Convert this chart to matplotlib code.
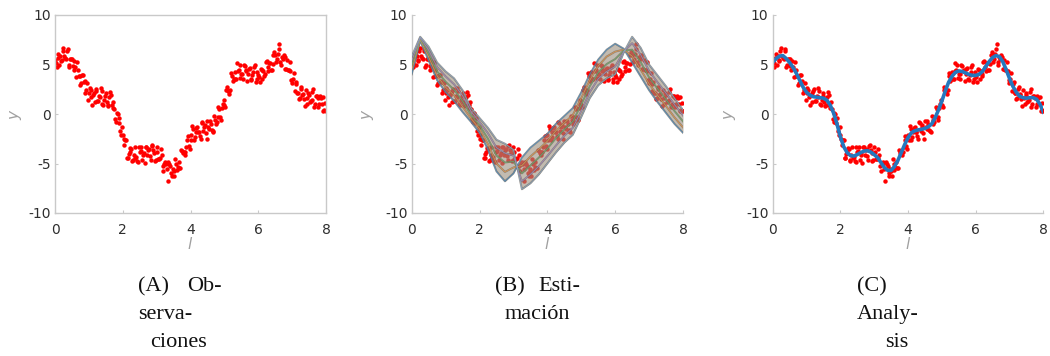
import numpy as np
import matplotlib.pyplot as plt
from matplotlib import font_manager

# --- data ---
# observations, two interleaved sampling grids
obs_t1 = np.arange(0, 8.001, 0.05)
obs_y1 = [5.5, 4.7, 6.1, 5.85, 5.45, 6.7, 5.7, 6.35, 4.7, 5.6,
          5.6, 4.45, 4.7, 5.3, 3.8, 2.95, 3.9, 3.25, 2.1, 3.15,
          2.1, 2.45, 0.9, 2.1, 2.35, 1.3, 1.8, 2.6, 1.05, 1.4,
          2.1, 0.8, 1.7, 1.95, 0.6, 0.5, -0.8, -0.05, -0.4, -2.15,
          -2.1, -3.1, -2.6, -4.4, -3.8, -3.55, -4.6, -3.3, -4.35, -4.8,
          -3.8, -3.3, -4.1, -4.9, -3.35, -3.6, -4.2, -3.2, -3.65, -4.7,
          -3.3, -4.55, -4.4, -4.15, -5.8, -4.85, -5.6, -4.85, -5.3, -6.3,
          -5.8, -4.5, -5.7, -4.8, -5.5, -3.7, -3.8, -3.8, -2.6, -3.25,
          -2.1, -1.25, -2.6, -1.8, -1.3, -1.85, -2.5, -0.95, -1.35, -1.9,
          -0.75, -1.5, -1.0, -1.75, -0.2, -1.0, -0.3, 0.5, -0.6, 1.05,
          0.9, 2.4, 2.3, 2.05, 4.1, 3.3, 4.2, 3.5, 4.3, 5.0,
          4.05, 3.5, 4.8, 4.4, 4.05, 4.65, 3.4, 4.25, 4.9, 3.5,
          3.9, 3.25, 4.4, 4.35, 4.0, 5.35, 4.3, 5.15, 4.4, 6.0,
          6.0, 5.6, 6.6, 5.25, 5.8, 5.95, 4.5, 5.5, 4.4, 4.35,
          3.1, 4.1, 3.0, 2.1, 1.5, 2.5, 1.9, 1.5, 2.45, 1.0,
          1.9, 1.3, 2.25, 0.75, 1.85, 1.6, 1.0, 1.65, 1.7, 0.4,
          0.3]
obs_t2 = np.arange(0.025, 8.0, 0.05)
obs_y2 = [5.2, 5.7, 5.0, 5.4, 6.4, 5.9, 5.6, 6.6, 4.9, 5.6,
          4.8, 5.4, 3.75, 4.45, 3.8, 3.1, 3.9, 3.3, 2.4, 1.4,
          2.6, 1.7, 1.95, 1.2, 2.5, 1.3, 1.7, 2.3, 0.9, 1.8,
          1.25, 0.95, 2.2, 0.9, 1.2, -0.5, 0.1, -0.95, -1.7, -1.3,
          -2.55, -2.65, -4.45, -4.05, -3.4, -4.7, -4.1, -4.4, -4.7, -3.35,
          -3.75, -4.65, -3.95, -3.3, -4.1, -3.5, -4.65, -3.1, -3.9, -4.65,
          -3.8, -4.5, -3.5, -5.3, -5.1, -5.0, -6.8, -5.0, -6.0, -5.6,
          -6.3, -5.0, -5.35, -5.45, -3.6, -3.9, -4.1, -3.3, -2.2, -3.5,
          -2.6, -1.5, -2.35, -1.45, -1.8, -2.2, -0.8, -1.75, -1.1, -2.5,
          -1.3, -0.75, -1.6, -1.8, -0.65, -0.85, 0.7, -0.3, 0.6, 1.4,
          0.75, 2.75, 2.3, 2.4, 3.85, 3.55, 3.5, 5.2, 4.45, 3.6,
          4.0, 4.9, 4.35, 3.3, 4.5, 3.5, 3.9, 4.7, 3.2, 4.2,
          3.7, 4.5, 3.5, 3.8, 5.3, 4.7, 5.2, 4.4, 5.1, 6.3,
          5.25, 6.05, 7.1, 4.9, 5.6, 5.8, 4.5, 4.4, 5.3, 3.4,
          3.5, 2.3, 3.25, 2.15, 1.6, 2.7, 2.05, 0.8, 1.6, 2.1,
          1.2, 1.4, 2.55, 1.05, 1.8, 0.75, 1.8, 1.0, 0.3, 1.1]

# analysis (panel C)
ana_t = np.arange(0, 8.001, 0.1)
ana_y = [5.2, 5.6, 5.85, 5.9, 5.6, 5.2, 4.7, 4.1, 3.4, 2.7,
         2.2, 1.9, 1.75, 1.7, 1.65, 1.6, 1.4, 0.9, 0.1, -1.0,
         -2.3, -3.3, -3.9, -4.2, -4.25, -4.1, -3.9, -3.75, -3.7, -3.85,
         -4.1, -4.4, -4.9, -5.4, -5.7, -5.7, -5.3, -4.7, -3.9, -3.1,
         -2.4, -1.9, -1.7, -1.6, -1.55, -1.45, -1.3, -1.0, -0.4, 0.4,
         1.3, 2.3, 3.2, 3.8, 4.2, 4.35, 4.3, 4.15, 4.0, 3.9,
         3.9, 4.0, 4.3, 4.8, 5.3, 5.7, 5.9, 5.8, 5.3, 4.5,
         3.6, 2.8, 2.2, 1.8, 1.65, 1.6, 1.65, 1.65, 1.5, 1.0,
         0.2]

# ensemble members (panel B)
ens_t = np.arange(0, 8.001, 0.25)
ens_a = [4.0, 7.4, 5.4, 3.4, 2.2, 1.3, 0.2, -0.8, -1.9, -3.6, -5.8, -6.8, -6.0,
         -4.4, -3.4, -2.7, -2.0, -1.0, -0.2, 0.6, 2.2, 4.0, 5.5, 6.5, 7.1, 6.6,
         5.2, 3.8, 2.4, 1.2, 0.1, -1.0, -1.9]
ens_q1 = [4.45, 7.5, 5.75, 3.85, 2.7, 1.9, 0.75, -0.45, -1.5, -3.05, -5.0, -5.85, -5.4,
          -5.2, -4.3, -3.55, -2.75, -1.7, -0.9, -0.1, 1.6, 3.4, 4.85, 5.8, 6.3, 6.5,
          5.85, 4.5, 3.05, 1.9, 0.8, -0.35, -1.35]
ens_mid = [4.9, 7.6, 6.1, 4.3, 3.25, 2.45, 1.3, -0.1, -1.15, -2.5, -4.2, -4.9, -4.8,
           -6.0, -5.2, -4.4, -3.5, -2.45, -1.55, -0.75, 0.95, 2.8, 4.2, 5.05, 5.55, 6.4,
           6.5, 5.25, 3.7, 2.55, 1.45, 0.3, -0.75]
ens_q3 = [5.35, 7.7, 6.45, 4.75, 3.8, 3.0, 1.85, 0.25, -0.8, -1.95, -3.4, -3.95, -4.2,
          -6.8, -6.1, -5.25, -4.25, -3.2, -2.2, -1.4, 0.3, 2.2, 3.55, 4.3, 4.8, 6.3,
          7.15, 6.0, 4.35, 3.2, 2.1, 0.95, -0.15]
ens_b = [5.8, 7.8, 6.8, 5.2, 4.3, 3.6, 2.4, 0.6, -0.4, -1.4, -2.6, -3.0, -3.6,
         -7.6, -7.0, -6.1, -5.0, -3.9, -2.9, -2.1, -0.3, 1.6, 2.9, 3.6, 4.0, 6.2,
         7.8, 6.7, 5.0, 3.9, 2.8, 1.6, 0.4]
members = [ens_a, ens_q1, ens_mid, ens_q3, ens_b]

yticks = [-10, -5, 0, 5, 10]
xticks = [0, 2, 4, 6, 8]

installed = {f.name for f in font_manager.fontManager.ttflist}
tick_font = 'Liberation Sans Narrow' if 'Liberation Sans Narrow' in installed else 'DejaVu Sans'
tick_size = 12 if tick_font == 'Liberation Sans Narrow' else 10

fig = plt.figure(figsize=(10.5, 3.56), dpi=100)
W, H = 1050, 356
bottom = 1 - 213 / H
height = (213 - 15) / H
lefts = [55, 411.7, 772.7]
widths = [271, 271.3, 270.6]
ylab_x = [-0.115, -0.132, -0.128]
axes = [fig.add_axes([l / W, bottom, w / W, height]) for l, w in zip(lefts, widths)]

dot = dict(color='red', ms=3.2, mew=0, ls='none', marker='o')


def style(ax, box, ylx):
    ax.set_xlim(0, 8)
    ax.set_ylim(-10, 10)
    ax.set_xticks(xticks)
    ax.set_yticks(yticks)
    ax.set_yticklabels([str(v) for v in yticks])
    for name, sp in ax.spines.items():
        sp.set_color('#c9c9c9')
        sp.set_linewidth(1.0)
        if not box and name in ('top', 'right'):
            sp.set_visible(False)
    ax.tick_params(direction='in', length=2, width=0.8, color='#c9c9c9',
                   labelcolor='#2e2e2e', labelsize=tick_size)
    ax.tick_params(axis='x', pad=7)
    ax.tick_params(axis='y', pad=3)
    for lab in ax.get_xticklabels() + ax.get_yticklabels():
        lab.set_family(tick_font)
    ax.set_xlabel('$l$', fontsize=11, color='#a0a0a0')
    ax.set_ylabel('$y$', fontsize=11, color='#a0a0a0')
    ax.xaxis.set_label_coords(0.5, -0.115)
    ax.yaxis.set_label_coords(ylx, 0.5)


# (A) observations
ax = axes[0]
ax.plot(obs_t1, obs_y1, **dot)
ax.plot(obs_t2, obs_y2, **dot)
style(ax, True, ylab_x[0])

# (B) ensemble estimate
ax = axes[1]
ax.plot(obs_t1, obs_y1, zorder=2, **dot)
ax.plot(obs_t2, obs_y2, zorder=2, **dot)
ax.fill_between(ens_t, ens_a, ens_b, color='#9a8f7e', alpha=0.6, lw=0, zorder=3)
member_colors = ['#4a8cc4', '#e89a50', '#6fae6f', '#a58cc7', '#8aa8c8']
for m, c in zip(members, member_colors):
    ax.plot(ens_t, m, color='#6a5f4f', lw=1.4, alpha=0.65, zorder=4)
    ax.plot(ens_t, m, color=c, lw=0.7, alpha=0.8, zorder=5)
style(ax, False, ylab_x[1])

# (C) analysis
ax = axes[2]
ax.plot(obs_t1, obs_y1, **dot)
ax.plot(obs_t2, obs_y2, **dot)
ax.plot(ana_t, ana_y, color='#2478be', lw=2.6)
style(ax, False, ylab_x[2])

# captions
cap = dict(family='Liberation Serif', fontsize=16, color='#111111', va='baseline', ha='left')


def fy(y):
    return 1 - y / H


fig.text(137.7 / W, fy(291), '(A)', **cap)
fig.text(186.7 / W, fy(291), 'Ob-', **cap)
fig.text(137.7 / W, fy(319), 'serva-', **cap)
fig.text(150 / W, fy(347), 'ciones', **cap)
fig.text(495 / W, fy(291), '(B)', **cap)
fig.text(538 / W, fy(291), 'Esti-', **cap)
fig.text(505 / W, fy(319), 'mación', **cap)
fig.text(856.7 / W, fy(291), '(C)', **cap)
fig.text(856.7 / W, fy(319), 'Analy-', **cap)
fig.text(885 / W, fy(347), 'sis', **cap)

fig.savefig('out.png', dpi=100)
